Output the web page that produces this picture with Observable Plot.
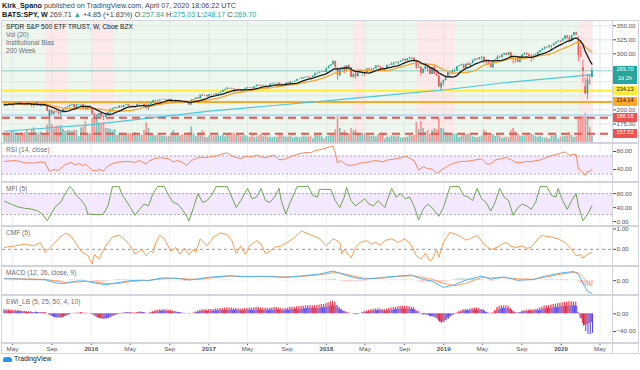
<!DOCTYPE html>
<html>
<head>
<meta charset="utf-8">
<script src="https://cdn.jsdelivr.net/npm/d3@7"></script>
<script src="https://cdn.jsdelivr.net/npm/@observablehq/plot@0.6"></script>
<style>
html,body{margin:0;padding:0;background:#fff;}
#wrap{position:relative;width:640px;height:370px;overflow:hidden;font-family:"Liberation Sans",Arial,sans-serif;color:#131722;}
.t{position:absolute;white-space:nowrap;font-size:6.6px;line-height:8px;color:#6a6d78;}
.hdr{position:absolute;left:2px;white-space:nowrap;font-size:7.2px;line-height:9px;color:#434651;}
.g{color:#26a69a}
.tag{position:absolute;left:613px;width:24px;height:9px;line-height:7px;font-size:5.6px;text-align:center;}
.ln{position:absolute;background:#d1d4dc;}
svg{position:absolute;left:0;}
</style>
</head>
<body>
<div id="wrap"></div>
<script>
// ---------- weekly SPY data (week starting 2015-04-06) ----------
const open = [206.4,210.0,208.0,211.6,210.8,211.6,212.4,213.0,211.1,209.8,
209.1,210.8,210.5,207.3,207.3,212.5,207.5,210.5,207.9,209.4,
188.0,199.2,192.6,196.5,195.5,192.9,195.0,201.1,203.3,205.3,
207.9,209.3,202.5,209.3,209.6,209.6,201.9,200.0,205.7,200.5,
191.9,188.1,190.5,193.7,188.0,186.6,192.9,195.1,200.4,202.8,
204.4,203.1,206.9,204.5,207.8,209.0,206.3,205.7,204.8,205.5,
210.2,210.3,210.1,206.5,203.2,209.9,212.7,216.2,217.2,217.1,
218.2,218.5,218.5,217.3,218.4,213.3,213.4,216.0,216.3,215.0,
213.1,214.0,212.5,208.6,216.4,218.5,221.5,219.7,226.5,225.0,
225.7,223.5,227.2,227.0,226.7,229.0,229.3,231.5,235.1,236.7,
238.4,237.7,237.0,233.9,235.7,235.2,232.5,234.6,238.1,239.7,
239.0,238.3,241.7,244.0,243.4,242.6,243.1,241.8,242.1,245.6,
247.1,247.3,247.4,243.8,242.7,244.6,247.8,246.6,250.1,250.2,
251.2,254.4,255.0,257.1,257.7,258.7,258.1,257.9,260.4,264.5,
265.5,267.2,267.5,266.9,274.0,278.1,280.4,286.6,273.5,261.5,
273.0,274.7,269.1,278.9,275.3,258.1,263.2,259.7,265.2,266.6,
266.6,266.0,272.9,271.3,272.2,273.6,278.2,277.1,274.7,271.3,
273.1,279.6,279.7,281.4,283.6,283.2,285.1,287.5,290.3,287.6,
290.9,292.0,290.7,287.8,276.0,276.3,265.3,271.9,277.8,273.7,
263.3,275.7,263.6,260.5,239.0,247.8,252.4,259.0,266.5,266.0,
270.1,270.5,277.4,279.1,280.4,274.5,281.3,279.3,282.5,288.6,
290.7,290.0,293.4,294.0,288.1,285.8,282.8,275.3,287.7,289.3,
294.0,293.0,298.5,300.7,297.2,302.0,292.6,291.6,288.9,284.9,
292.5,298.0,300.9,298.3,295.4,294.4,296.3,298.0,302.8,306.1,
308.9,311.8,311.0,314.3,314.9,317.3,320.7,322.9,322.4,325.7,
332.0,328.8,321.7,332.2,337.6,323.1,298.2,275.3,241.2,228.2,
250.7,257.8];
const close = [210.0,208.0,211.6,210.8,211.6,212.4,213.0,211.1,209.8,209.1,
210.8,210.5,207.3,207.3,212.5,207.5,210.5,207.9,209.4,197.6,
199.2,192.6,196.5,195.5,192.9,195.0,201.1,203.3,205.3,207.9,
209.3,202.5,209.3,209.6,209.6,201.9,200.0,205.7,203.9,191.9,
188.1,190.5,193.7,188.0,186.6,192.9,195.1,200.4,202.8,204.4,
203.1,206.9,204.5,207.8,209.0,206.3,205.7,204.8,205.5,210.2,
210.3,210.1,206.5,203.2,209.9,212.7,216.2,217.2,217.1,218.2,
218.5,218.5,217.3,218.4,213.3,213.4,216.0,216.3,215.0,213.1,
214.0,212.5,208.6,216.4,218.5,221.5,219.7,226.5,225.0,225.7,
223.5,227.2,227.0,226.7,229.0,229.3,231.5,235.1,236.7,238.4,
237.7,237.0,233.9,235.7,235.2,232.5,234.6,238.1,239.7,239.0,
238.3,241.7,244.0,243.4,242.6,243.1,241.8,242.1,245.6,247.1,
247.3,247.4,243.8,242.7,244.6,247.8,246.6,250.1,250.2,251.2,
254.4,255.0,257.1,257.7,258.7,258.1,257.9,260.4,264.5,265.5,
267.2,267.5,266.9,274.0,278.1,280.4,286.6,275.5,261.5,273.0,
274.7,269.1,278.9,275.3,258.1,263.2,259.7,265.2,266.6,266.6,
266.0,272.9,271.3,272.2,273.6,278.2,277.1,274.7,271.3,273.1,
279.6,279.7,281.4,283.6,283.2,285.1,287.5,290.3,287.6,290.9,
292.0,290.7,287.8,276.0,276.3,265.3,271.9,277.8,273.7,263.3,
275.7,263.6,260.5,240.7,247.8,252.4,259.0,266.5,266.0,270.1,
270.5,277.4,279.1,280.4,274.5,281.3,279.3,282.5,288.6,290.7,
290.0,293.4,294.0,288.1,285.8,282.8,275.3,287.7,289.3,294.0,
293.0,298.5,300.7,297.2,302.0,292.6,291.6,288.9,284.9,292.5,
298.0,300.9,298.3,295.4,294.4,296.3,298.0,302.8,306.1,308.9,
311.8,311.0,314.3,314.9,317.3,320.7,322.9,322.4,325.7,332.0,
328.8,321.7,332.2,337.6,333.5,296.3,297.5,269.3,228.8,253.4,
248.2,269.7];
const high = [210.1,211.0,211.9,212.2,211.6,212.6,213.8,213.2,212.0,211.9,
212.1,212.6,210.6,208.1,212.8,213.2,211.3,211.8,210.7,210.4,
199.8,199.4,197.6,200.8,197.4,195.1,201.5,203.4,206.1,208.9,
211.0,209.4,209.6,209.9,210.8,209.8,207.8,206.2,207.8,201.9,
194.0,191.5,194.0,194.6,189.4,193.3,196.2,201.1,202.8,204.9,
204.6,207.0,207.0,208.2,210.9,209.9,207.2,208.5,206.8,210.2,
211.0,212.5,210.4,211.9,210.0,212.8,216.6,217.5,217.7,218.3,
219.0,219.2,219.3,218.9,219.2,216.5,218.1,217.1,216.7,215.8,
215.3,215.3,213.4,219.1,219.0,221.6,222.3,226.7,228.3,226.8,
226.7,227.8,228.1,227.8,229.6,229.6,232.0,235.1,236.7,240.3,
238.6,239.4,237.6,236.5,237.1,236.0,235.3,239.5,239.7,240.2,
240.4,241.9,244.4,245.0,244.6,244.4,244.4,243.0,245.9,247.5,
248.0,248.0,248.9,247.8,245.6,247.8,248.3,250.2,250.6,251.3,
254.6,255.3,257.2,257.8,258.9,259.4,259.0,260.5,266.1,265.6,
267.6,268.6,268.5,274.0,278.1,280.8,286.6,286.6,275.9,273.3,
274.8,279.0,278.9,280.6,275.5,265.3,266.6,266.5,271.3,268.6,
267.9,273.2,273.4,274.3,274.0,279.0,279.5,277.1,275.6,274.0,
279.6,281.1,284.4,284.0,286.0,285.1,287.7,290.4,290.2,291.3,
293.9,293.2,293.9,288.9,282.0,277.0,274.0,281.2,277.8,273.7,
275.8,280.4,267.6,262.4,248.3,253.1,259.2,266.9,266.7,271.2,
273.4,277.4,279.4,281.3,281.9,281.6,285.0,282.8,288.6,290.8,
291.4,293.4,294.9,294.0,290.0,286.5,284.2,288.0,290.0,296.3,
296.3,299.0,301.1,301.1,302.2,302.2,293.6,294.2,293.8,293.0,
298.8,301.2,301.8,300.6,298.2,298.7,300.0,302.9,306.2,309.0,
311.8,312.1,315.5,315.0,319.0,320.9,323.0,323.6,327.5,332.0,
332.9,332.3,333.0,337.8,339.1,331.2,313.8,288.5,256.9,262.8,
263.3,275.0];
const low = [205.5,207.5,207.9,207.4,205.9,209.5,211.9,210.6,208.3,207.2,
207.3,209.5,204.9,203.0,207.2,207.2,205.3,207.0,206.3,197.5,
182.4,190.9,191.0,194.9,191.1,187.9,194.9,197.8,201.6,204.3,
206.8,202.5,202.3,207.8,202.6,201.9,199.8,200.0,203.9,191.4,
186.9,181.0,186.6,186.8,181.1,186.5,189.5,193.6,197.5,200.9,
202.2,202.3,203.0,203.9,207.3,205.0,203.5,204.5,202.8,205.5,
208.5,209.7,204.5,199.9,198.7,207.7,212.7,215.3,214.8,214.3,
217.5,216.7,216.2,216.5,213.2,211.2,213.1,212.6,213.6,211.2,
211.9,211.2,208.4,208.4,215.0,218.1,218.8,219.6,224.6,224.7,
223.0,223.5,225.4,225.4,226.3,226.4,228.5,231.0,234.0,235.8,
235.8,235.7,232.5,232.6,233.1,232.5,232.3,234.6,237.2,238.8,
234.4,238.2,240.7,241.7,242.3,242.4,240.4,240.2,240.7,245.0,
245.8,246.1,243.8,242.5,242.1,242.8,244.9,246.6,248.6,249.3,
251.2,253.9,254.3,254.3,256.6,255.8,255.6,257.9,259.6,262.4,
264.5,266.9,266.6,266.9,273.3,276.9,280.2,275.4,252.9,259.1,
269.6,264.3,268.6,274.5,258.1,256.3,254.7,257.8,265.1,260.3,
259.1,265.0,270.5,269.0,267.7,272.7,275.5,272.5,269.0,269.9,
273.1,278.5,279.5,278.9,282.4,280.2,284.7,287.4,286.2,286.7,
289.6,289.9,286.2,272.0,273.5,260.6,264.1,271.2,267.3,263.1,
263.1,262.8,259.7,240.7,233.8,242.0,251.5,257.1,261.9,262.5,
266.8,268.6,277.3,277.9,272.4,274.3,279.2,277.4,282.5,286.9,
288.2,288.6,289.0,282.3,279.9,280.6,275.0,273.6,286.4,288.6,
292.4,293.0,296.7,296.2,297.2,289.1,281.7,283.0,284.5,283.2,
289.3,297.8,297.3,294.3,284.8,288.9,295.2,297.3,301.7,305.5,
306.9,309.0,311.0,307.9,312.8,317.3,320.7,319.2,321.5,325.2,
325.1,320.7,321.7,331.8,333.0,285.5,293.0,247.7,228.0,218.3,
243.9,257.0];
const volume = [420,450,430,520,560,440,380,400,450,480,
560,400,620,680,480,430,500,430,430,800,
1300,820,620,750,750,780,620,520,560,560,
520,580,560,300,680,720,950,420,430,1080,
1150,1050,900,850,900,650,640,620,560,600,
350,440,450,430,380,430,440,400,470,350,
360,360,560,900,650,400,380,330,370,340,
300,300,320,300,430,560,400,420,330,380,
350,340,480,720,420,300,420,460,560,270,
250,330,340,300,330,360,300,360,280,400,
330,450,430,350,370,300,330,350,300,270,
420,260,280,330,400,300,360,260,280,250,
280,260,370,380,300,270,280,330,250,270,
270,250,280,330,270,290,300,200,400,350,
380,280,180,300,320,380,360,600,1250,650,
450,560,430,430,650,550,580,400,380,450,
430,350,330,300,320,280,380,370,440,200,
280,270,330,320,280,330,240,230,260,270,
340,300,350,920,600,950,650,480,560,400,
560,650,600,1050,650,620,470,450,370,420,
400,380,260,330,400,380,420,400,300,260,
250,280,330,580,520,320,420,400,300,380,
300,230,260,280,250,550,650,520,420,330,
300,330,350,330,420,360,300,270,300,250,
240,250,190,330,330,380,180,280,290,300,
330,480,350,260,300,1200,1050,1200,1300,1200,
700,300];

// 200-week average [date, value]
const sma200 = [["2015-04-06",162],["2016-01-04",174],["2016-07-04",186],["2017-01-02",198],["2017-07-03",207],
["2018-01-01",216],["2018-07-02",226],["2019-01-07",236],["2019-07-01",248],["2020-01-06",258],["2020-04-06",263]];

// price levels
const levelYellow = [234.13], levelOrange = [214.14], levelBlue = [190.6], levelRed = [186.16, 157.52], lastPrice = [269.70];
const priceGrid = [175, 200, 225, 250, 275, 300, 325, 350];
const priceTicks = [175, 200, 300, 325, 350];

// institutional-bias background spans
const biasGreen = [{start:"2015-03-31", end:"2020-04-09"}];
const biasPink = [{start:"2015-08-12", end:"2015-10-22"},{start:"2016-01-05", end:"2016-03-13"},
{start:"2018-03-26", end:"2018-05-02"},{start:"2018-10-11", end:"2019-02-06"},{start:"2020-02-27", end:"2020-04-09"}];

// RSI(14) [week index, value]
const rsiPts = [[0,58],[5,60],[9,55],[13,54],[16,57],[18,55],[20,36],[22,40],[24,38],[25,43],[27,51],[30,56],[31,50],[33,53],[35,49],[36,52],[39,38],[41,37],[42,40],[44,37],[46,48],[48,53],[50,56],[52,57],[55,58],[58,56],[60,60],[63,52],[64,58],[67,65],[70,66],[73,64],[75,57],[77,60],[79,56],[81,49],[83,60],[85,64],[87,68],[89,66],[91,68],[94,70],[97,75],[99,77],[102,68],[105,64],[107,69],[110,68],[112,72],[114,68],[116,66],[118,70],[120,71],[122,62],[124,62],[126,66],[128,70],[131,75],[134,78],[136,77],[138,82],[141,85],[143,88],[146,92],[147,77],[148,54],[149,60],[150,58],[152,50],[154,49],[156,51],[158,54],[161,56],[163,58],[165,60],[168,57],[170,61],[173,63],[176,66],[178,69],[179,68],[181,62],[182,60],[184,39],[186,46],[188,42],[190,41],[192,32],[194,38],[196,45],[199,53],[201,56],[203,58],[205,58],[208,60],[212,64],[214,53],[216,52],[218,61],[220,63],[223,67],[225,62],[227,56],[229,55],[232,58],[234,57],[236,60],[238,61],[240,65],[243,71],[245,73],[247,76],[249,79],[250,76],[251,71],[253,74],[254,73],[255,41],[256,38],[257,33],[258,27],[259,36],[260,35],[261,41]];
const rsiBand = [{lo:30, hi:70}], rsiLevels = [30, 70], rsiTicks = [40, 80];

// MFI(5)
const mfiPts = [[0,58],[3,50],[6,42],[9,38],[12,36],[15,30],[17,20],[19,2],[21,25],[23,45],[25,55],[27,80],[29,100],[30,95],[32,75],[34,62],[36,45],[37,22],[40,20],[43,20],[44,22],[46,45],[48,100],[51,100],[52,80],[54,60],[56,40],[58,18],[60,35],[62,50],[64,45],[66,80],[68,100],[71,100],[73,75],[75,55],[77,50],[79,35],[81,15],[82,2],[84,40],[86,80],[88,55],[90,60],[92,75],[94,100],[99,100],[101,70],[103,40],[105,60],[108,95],[110,65],[112,70],[114,95],[116,60],[118,55],[120,70],[122,95],[123,60],[125,22],[127,55],[130,100],[135,100],[137,75],[139,70],[140,92],[145,92],[147,60],[149,40],[151,70],[152,98],[154,60],[156,45],[158,55],[160,65],[162,50],[164,45],[166,60],[169,40],[170,60],[172,95],[174,70],[176,80],[178,65],[180,70],[182,45],[184,5],[186,35],[188,50],[190,40],[193,15],[195,40],[197,80],[198,100],[202,100],[204,75],[206,70],[208,60],[210,95],[212,65],[214,55],[216,30],[218,55],[220,95],[222,70],[224,60],[226,18],[228,40],[230,50],[232,45],[234,35],[236,55],[238,100],[241,100],[243,75],[245,70],[246,95],[248,60],[250,35],[252,60],[254,80],[255,45],[257,3],[259,20],[261,45]];
const mfiBand = [{lo:20, hi:80}], mfiLevels = [20, 80], mfiTicks = [0, 40, 80];

// CMF(5)
const cmfPts = [[0,0.09],[5,0.17],[9,0.26],[13,0.17],[16,0.34],[18,-0.16],[20,0.05],[24,0.52],[27,0.78],[29,0.72],[32,0.26],[34,-0.09],[37,-0.3],[39,-0.72],[40,-0.25],[42,-0.48],[45,0.17],[48,0.6],[51,0.69],[53,0.52],[56,0.17],[58,-0.24],[61,0.0],[63,-0.32],[65,-0.09],[66,-0.16],[67,0.26],[69,0.69],[71,0.52],[74,-0.1],[76,0.1],[78,-0.24],[80,0.05],[82,-0.27],[84,0.0],[85,-0.16],[87,0.52],[90,0.17],[93,0.6],[96,0.81],[99,0.72],[101,0.43],[103,-0.21],[105,0.17],[107,-0.24],[109,0.17],[112,0.43],[114,0.26],[116,-0.21],[118,-0.09],[120,0.1],[123,0.17],[127,0.43],[130,0.69],[132,0.9],[134,0.8],[136,0.72],[140,0.52],[143,0.17],[146,0.52],[149,0.34],[150,-0.24],[151,0.0],[154,-0.43],[156,0.1],[158,0.34],[161,0.43],[163,0.25],[165,0.34],[167,0.2],[169,0.43],[172,0.52],[175,0.34],[178,0.52],[181,0.17],[183,-0.32],[185,-0.48],[187,-0.2],[189,-0.56],[190,-0.5],[192,0.0],[193,-0.4],[195,0.34],[198,0.83],[201,0.72],[203,0.6],[205,0.45],[207,0.52],[210,0.69],[213,0.26],[216,0.0],[219,0.09],[221,0.25],[223,0.34],[225,0.15],[227,0.09],[230,0.17],[232,0.05],[234,0.09],[237,0.52],[239,0.69],[241,0.62],[243,0.6],[246,0.52],[249,0.34],[252,0.0],[254,-0.32],[256,-0.26],[257,-0.43],[259,-0.24],[261,-0.15]];
const cmfZero = [0], cmfTicks = [0, 1];

// MACD(12,26,9): [week index, macd, signal]
const macdPts = [[0,2.0,2.4],[10,1.5,1.9],[18,1.0,1.3],[20,-0.5,0.8],[24,-3.0,-0.7],[27,-3.0,-2.0],[32,-0.5,-1.6],[36,-0.3,-0.8],[40,-2.6,-1.2],[45,-4.5,-3.2],[50,-2.3,-3.3],[56,0.0,-1.0],[62,0.5,0.2],[64,0.0,0.3],[70,3.0,2.0],[76,2.5,2.7],[82,0.8,1.7],[86,1.8,1.5],[90,3.5,2.6],[100,5.4,4.8],[107,4.3,4.6],[115,4.8,4.6],[124,3.6,4.1],[130,4.6,4.2],[140,7.2,6.4],[146,10.5,8.6],[149,8.0,8.4],[155,3.5,5.0],[160,1.5,2.5],[166,3.0,2.5],[176,5.3,4.7],[181,6.0,5.5],[185,2.0,3.9],[190,-0.5,1.5],[195,-7.5,-3.0],[200,-4.5,-5.5],[205,0.5,-3.0],[212,5.0,3.5],[216,1.5,3.0],[222,4.0,3.3],[228,0.5,2.0],[235,1.2,1.5],[240,4.8,3.5],[247,8.3,7.0],[253,10.0,9.2],[255,7.0,8.6],[257,-3.0,3.5],[259,-11.5,-2.0],[261,-14.0,-6.0]];
const macdHist = [-0.2,-0.3,-0.3,-0.3,-0.3,-0.2,-0.2,-0.2,-0.3,-0.3,-0.3,-0.3,-0.4,-0.4,-0.3,-0.3,-0.3,-0.3,-0.3,
-0.8,-1.5,-1.8,-1.6,-1.4,-1.2,-0.8,-0.3,0.2,0.6,0.9,
1.0,0.8,0.8,0.7,0.6,0.3,0.0,-0.1,-0.2,
-0.8,-1.3,-1.6,-1.5,-1.5,-1.4,-1.0,-0.6,0.0,0.5,0.9,1.1,1.2,
1.1,1.1,1.1,0.9,0.7,0.5,0.4,0.5,0.5,0.4,0.1,
-0.3,-0.2,
0.2,0.6,0.9,1.0,1.0,0.9,0.8,0.6,0.4,0.1,-0.2,-0.4,
-0.4,-0.5,-0.6,-0.6,-0.7,-0.9,-0.5,-0.2,0.3,
0.5,0.9,1.1,1.0,0.8,0.8,0.6,0.5,0.5,0.4,0.4,0.6,0.7,0.8,
0.7,0.5,0.2,0.0,-0.2,-0.4,-0.5,-0.3,-0.1,0.0,0.0,0.2,0.3,
0.3,0.2,0.1,0.1,0.0,0.1,0.2,0.3,0.2,0.0,-0.3,-0.4,-0.4,-0.3,-0.1,0.1,0.3,
0.5,0.6,0.7,0.7,0.7,0.6,0.4,0.4,0.5,0.6,0.6,0.6,0.5,
0.8,1.1,1.4,1.8,
1.2,0.0,-0.6,-0.9,-1.4,-1.3,-1.2,-1.6,-1.6,-1.6,-1.3,-1.0,-0.8,-0.6,
-0.3,-0.1,0.1,0.3,0.6,0.7,0.6,0.4,0.3,0.5,0.6,0.6,0.7,0.7,0.7,0.7,0.8,0.7,0.7,0.7,0.6,0.4,
-0.3,-0.9,-1.8,-2.0,-1.8,-1.8,-2.0,-1.6,-1.5,-1.6,-2.5,-2.6,-2.2,-1.5,-0.7,0.1,0.8,1.3,
1.7,2.1,2.2,2.2,2.0,1.9,1.8,1.8,1.7,1.5,1.3,1.2,
0.6,0.1,-0.3,-0.9,-0.6,-0.4,-0.1,0.1,0.3,0.5,0.5,0.6,
0.0,-0.5,-0.9,-1.2,-1.1,-0.8,
-0.5,-0.3,-0.3,-0.4,-0.3,-0.2,0.0,0.3,0.5,0.8,0.9,1.0,1.0,1.0,1.1,1.1,1.1,
1.0,1.0,0.9,0.5,0.6,0.7,0.5,-1.4,-2.8,-4.5,-6.5,-6.5,-6.0,-4.5];
const macdTicks = [0];

// EWI_LB(5,25,50,4,10): two histograms
const ewiRed = [9,9,9,8,8,8,8,7,6,6,
5,5,4,3,4,3,3,3,3,
1,-3,-6,-8,-9,-9,-9,-8,-6,-4,-2,
0,1,1,2,3,2,1,1,1,
-2,-5,-8,-10,-11,-12,-11,-10,-8,-6,-4,-2,-1,
1,2,3,3,3,2,2,3,4,4,3,
1,1,
3,5,7,8,9,9,9,9,8,8,6,5,
4,3,2,1,0,-1,0,2,4,
6,8,9,9,9,10,10,10,11,11,12,12,13,13,
13,13,12,12,11,11,11,12,12,13,13,13,14,
14,13,13,12,12,13,13,14,14,13,12,11,12,13,14,15,15,
16,16,17,17,18,18,18,18,19,19,20,21,21,
23,25,27,29,
26,19,14,10,6,4,2,0,-1,-2,-1,1,3,5,
7,8,9,10,11,11,11,10,10,11,12,13,14,15,16,17,17,17,17,16,15,14,
8,5,0,-2,-2,-3,-6,-6,-8,-10,-16,-19,-18,-15,-11,-7,-4,-1,
2,5,7,9,10,10,11,12,13,13,
12,10,9,4,2,1,2,8,14,17,
18,18,18,17,12,6,3,2,3,6,
7,8,9,9,9,10,11,13,15,17,
18,19,20,21,22,23,24,25,26,26,
27,27,27,26,3,-10,-22,-26,-25,-22,-20];
const ewiBlue = [6,6,6,5,5,5,5,5,4,4,
3,3,3,2,3,2,2,2,2,
0,-3,-6,-9,-10,-10,-10,-8,-6,-4,-2,
0,1,1,1,2,1,1,0,0,
-2,-6,-9,-11,-12,-13,-12,-11,-9,-6,-4,-2,-1,
1,1,2,2,2,1,1,2,3,3,2,
0,1,
2,3,5,5,6,6,6,6,5,5,4,3,
3,2,1,1,0,-1,0,1,3,
4,5,6,6,6,6,6,6,7,7,8,8,8,8,
8,8,8,8,7,7,7,8,8,8,8,8,9,
9,8,8,8,8,8,8,9,9,8,8,7,8,8,9,10,10,
10,10,11,11,12,12,12,12,12,12,13,14,14,
15,16,18,19,
17,12,9,6,4,2,1,0,-1,-2,-1,0,2,3,
4,5,6,6,7,7,7,6,6,7,8,8,9,10,10,11,11,11,11,10,10,9,
5,2,-2,-3,-3,-4,-7,-7,-9,-12,-19,-22,-20,-16,-12,-7,-4,-1,
1,3,5,6,7,7,7,8,9,9,
8,7,6,3,1,1,1,5,9,11,
12,12,12,11,8,4,2,1,2,4,
5,5,6,6,6,7,7,8,10,11,
12,12,13,14,14,15,16,16,17,17,
18,18,18,17,-2,-12,-28,-40,-47,-47,-44];
const ewiTicks = [-40, 0];

// time axis
const xTickDates = ["2015-05-01","2015-09-01","2016-01-01","2016-05-01","2016-09-01","2017-01-01","2017-05-01","2017-09-01",
"2018-01-01","2018-05-01","2018-09-01","2019-01-01","2019-05-01","2019-09-01","2020-01-01","2020-05-01"];
const xTickLabels = ["May","Sep","2016","May","Sep","2017","May","Sep","2018","May","Sep","2019","May","Sep","2020","May"];

// ---------- build ----------
const wrap = document.getElementById("wrap");
const firstWeek = Date.UTC(2015, 3, 6);
const weekDate = i => new Date(firstWeek + i * 7 * 864e5);
const UP = "#26a69a", DN = "#ef5350";
const bars = close.map((c, i) => ({date: weekDate(i), open: open[i], high: high[i], low: low[i], close: c, volume: volume[i], up: c >= open[i],
  hist: macdHist[i], red: ewiRed[i], blue: ewiBlue[i]}));
const xTicks = xTickDates.map(s => new Date(s));
const xDomain = [new Date("2015-03-31"), new Date("2020-06-09")];
const f2 = d3.format(".2f");
const STYLE = {background: "transparent", fontFamily: "'Liberation Sans', Arial, sans-serif", fontSize: "6.2px", color: "#50535e", overflow: "visible"};

function mk(h, y, marks, extra = {}) {
  return Plot.plot(Object.assign({
    width: 640, height: h, marginLeft: 2, marginRight: 28, marginTop: 0, marginBottom: 0,
    x: {type: "utc", domain: xDomain, axis: null},
    y, style: STYLE, marks
  }, extra));
}
function place(el, top) { el.style.top = top + "px"; wrap.appendChild(el); return el; }
function yAx(domain, ticks) { return {domain, axis: "right", ticks, tickFormat: f2, tickSize: 3, tickPadding: 1, label: null}; }
const vgrid = c => Plot.ruleX(xTicks, {stroke: c, strokeWidth: 1});

// header
wrap.insertAdjacentHTML("beforeend",
  `<div class="hdr" style="top:1px"><b style="color:#131722">Kirk_Spano</b> published on TradingView.com, April 07, 2020 18:06:22 UTC</div>
   <div class="hdr" style="top:9.5px"><b style="color:#131722">BATS:SPY, W</b> 269.71 <span class="g">▲</span> +4.85 (+1.83%) O:<span class="g">257.84</span> H:<span class="g">275.03</span> L:<span class="g">248.17</span> C:<span class="g">269.70</span></div>`);

// main panel
const P = {main: [20, 123], rsi: [143, 39], mfi: [182, 44], cmf: [226, 40], macd: [266, 29], ewi: [295, 48]};
const priceDomain = [140.2, 359.4];
place(mk(P.main[1], {domain: priceDomain, axis: null}, [
  Plot.rect(biasGreen, {x1: d => new Date(d.start), x2: d => new Date(d.end), fill: "#edf7ee"}),
  Plot.rect(biasPink, {x1: d => new Date(d.start), x2: d => new Date(d.end), fill: "#fde9e9"}),
  vgrid("#dfe8e2"),
  Plot.ruleY(priceGrid, {stroke: "#dfe8e2"})
]), P.main[0]);
const volH = 30;
place(mk(volH, {domain: [0, 1300], axis: null}, [
  Plot.ruleX(bars, {x: "date", y1: () => 0, y2: "volume", stroke: d => d.up ? "#74c6bc" : "#f29592", strokeWidth: 1.7})
]), P.main[0] + P.main[1] - volH);
const mainTop = place(mk(P.main[1], yAx(priceDomain, priceTicks), [
  Plot.ruleY(levelBlue, {stroke: "#b3dcf7", strokeWidth: 2}),
  Plot.ruleY(levelRed, {stroke: "#ef5350", strokeWidth: 2, strokeDasharray: "8,5"}),
  Plot.ruleY(levelOrange, {stroke: "#ffa726", strokeWidth: 2}),
  Plot.ruleY(levelYellow, {stroke: "#ffeb3b", strokeWidth: 2}),
  Plot.ruleY(lastPrice, {stroke: "#26a69a", strokeOpacity: 0.5}),
  Plot.line(sma200, {x: d => new Date(d[0]), y: d => d[1], stroke: "#4fc6dc", strokeWidth: 1.2}),
  Plot.ruleX(bars, {x: "date", y1: "low", y2: "high", stroke: d => d.up ? UP : DN, strokeWidth: 0.8}),
  Plot.ruleX(bars, {x: "date", y1: "open", y2: "close", stroke: d => d.up ? UP : DN, strokeWidth: 1.6}),
  Plot.lineY(bars, Plot.windowY({k: 18, anchor: "end"}, {x: "date", y: "close", stroke: "#f7a531", strokeWidth: 1.3})),
  Plot.lineY(bars, Plot.windowY({k: 9, anchor: "end"}, {x: "date", y: "close", stroke: "#1b1b1b", strokeWidth: 1.3}))
]), P.main[0]);

// indicator panels
const xi = d => weekDate(d[0]);
place(mk(P.rsi[1], yAx([11.1, 97.8], rsiTicks), [
  Plot.rect(rsiBand, {y1: "lo", y2: "hi", fill: "#f3e8fd"}),
  vgrid("#eef0f3"),
  Plot.ruleY(rsiLevels, {stroke: "#a8a9b0", strokeDasharray: "2,2"}),
  Plot.line(rsiPts, {x: xi, y: d => d[1], stroke: "#f38a5c", strokeWidth: 1})
]), P.rsi[0]);
place(mk(P.mfi[1], yAx([-14, 111.8], mfiTicks), [
  Plot.rect(mfiBand, {y1: "lo", y2: "hi", fill: "#f3e8fd"}),
  vgrid("#eef0f3"),
  Plot.ruleY(mfiLevels, {stroke: "#a8a9b0", strokeDasharray: "2,2"}),
  Plot.line(mfiPts, {x: xi, y: d => d[1], stroke: "#6ea552", strokeWidth: 1})
]), P.mfi[0]);
place(mk(P.cmf[1], yAx([-0.843, 1.119], cmfTicks), [
  vgrid("#eef0f3"),
  Plot.ruleY(cmfZero, {stroke: "#9598a1", strokeDasharray: "3,3"}),
  Plot.line(cmfPts, {x: xi, y: d => d[1], stroke: "#fb9b4e", strokeWidth: 1})
]), P.cmf[0]);
place(mk(P.macd[1], yAx([-16.3, 15.5], macdTicks), [
  vgrid("#eef0f3"),
  Plot.ruleX(bars, {x: "date", y1: () => 0, y2: "hist", stroke: d => d.hist >= 0 ? "#a7dcd6" : "#f7b3b3", strokeWidth: 1.5}),
  Plot.line(macdPts, {x: xi, y: d => d[2], stroke: "#ff9f5f", strokeWidth: 1}),
  Plot.line(macdPts, {x: xi, y: d => d[1], stroke: "#4fb3f3", strokeWidth: 1})
]), P.macd[0]);
const ewiSvg = place(mk(P.ewi[1] + 10, yAx([-67.1, 41.4], ewiTicks), [
  vgrid("#eef0f3"),
  Plot.ruleX(bars, {x: "date", y1: () => 0, y2: "red", stroke: "#e8475d", strokeWidth: 1.3, dx: -0.5}),
  Plot.ruleX(bars, {x: "date", y1: () => 0, y2: "blue", stroke: "#5446f0", strokeWidth: 1, dx: 0.6})
], {marginBottom: 10, x: {type: "utc", domain: xDomain, axis: "bottom", ticks: xTicks, tickSize: 2, tickPadding: 1, label: null,
  tickFormat: d => xTickLabels[xTicks.findIndex(t => +t === +d)]}}), P.ewi[0]);
// year labels slightly bolder, as in the reference
d3.select(ewiSvg).selectAll("text").filter(function() { return /^\d{4}$/.test(this.textContent); }).attr("font-weight", "bold");

// panel titles
const titles = [[22.5, "SPDR S&P 500 ETF TRUST, W, Cboe BZX", "#131722"], [30.5, "Vol (20)"], [38.5, "Institutional Bias"], [46.5, "200 Week"],
  [P.rsi[0] + 3, "RSI (14, close)"], [P.mfi[0] + 3, "MFI (5)"], [P.cmf[0] + 3, "CMF (5)"], [P.macd[0] + 3, "MACD (12, 26, close, 9)"], [P.ewi[0] + 3, "EWI_LB (5, 25, 50, 4, 10)"]];
for (const [top, txt, col] of titles) {
  const d = document.createElement("div"); d.className = "t"; d.style.left = "6px"; d.style.top = top + "px";
  if (col) d.style.color = col; d.textContent = txt; wrap.appendChild(d);
}

// frame lines
const lines = [[1, 19.5, 637, 1], [1, 20, 1, 333], [612, 20, 1, 333], [638, 20, 1, 333], [1, 352.5, 638, 1]];
for (const y of [143, 182, 226, 266, 295, 343]) lines.push([1, y - 1, 638, 2]);
for (const [l, t, w, h] of lines) { const d = document.createElement("div"); d.className = "ln";
  Object.assign(d.style, {left: l + "px", top: t + "px", width: w + "px", height: h + "px"}); wrap.appendChild(d); }

// price tags on the axis, placed with the plot's own y scale
const sy = mainTop.scale("y");
const tags = [[269.70, "269.70", UP, "#fff", 0], [269.70, "2d 2h", UP, "#fff", 9], [234.13, "234.13", "#ffeb3b", "#131722", 0],
  [214.14, "214.14", "#ffa726", "#131722", 0], [186.16, "186.16", "#ef5350", "#fff", 0], [157.52, "157.52", "#ef5350", "#fff", 0]];
for (const [v, txt, bg, fg, off] of tags) {
  const d = document.createElement("div"); d.className = "tag"; d.textContent = txt;
  Object.assign(d.style, {top: (P.main[0] + sy.apply(v) - 4.5 + off) + "px", background: bg, color: fg}); wrap.appendChild(d);
}

// logo
wrap.insertAdjacentHTML("beforeend", `<div style="position:absolute;left:3px;top:354px;font-size:6.8px;line-height:9px;color:#131722;white-space:nowrap">
<span style="display:inline-block;width:9px;height:5px;background:#2196f3;border-radius:3px 3px 1px 1px;vertical-align:middle;margin-right:2px"></span>TradingView</div>`);
</script>
</body>
</html>
